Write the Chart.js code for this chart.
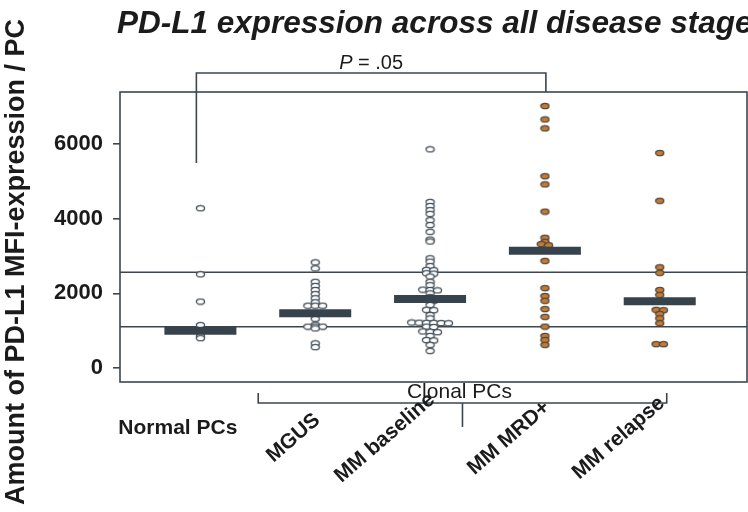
<!DOCTYPE html>
<html>
<head>
<meta charset="utf-8">
<script src="https://cdn.jsdelivr.net/npm/chart.js@4.4.1/dist/chart.umd.min.js"></script>
<style>
  html, body { margin: 0; padding: 0; background: #ffffff; }
  canvas { display: block; }
</style>
</head>
<body>
<canvas id="c" width="748" height="512"></canvas>
<script>
// ---------------- data ----------------
const categories = ['Normal PCs', 'MGUS', 'MM baseline', 'MM MRD+', 'MM relapse'];
const normalPCs  = [4280, 2510, 1780, 1150, 1000, 860, 800];
const mgus       = [2830, 2670, 2310, 2200, 2090, 1980, 1870, 1760, 1670, 1670, 1670, 1320, 1160, 1110, 1110, 1110, 1060, 660, 560];
const mmBaseline = [5860, 4450, 4340, 4230, 4130, 3960, 3830, 3650, 3440, 3390, 2940, 2850, 2730, 2630, 2620,
                    2540, 2530, 2450, 2310, 2220, 2100, 2090, 2080, 2000, 1900, 1840, 1800, 1690, 1560, 1550, 1420,
                    1330, 1220, 1215, 1210, 1210, 1205, 1200, 1110, 1100, 980, 970, 960, 860, 750, 740, 620, 460];
const mmMrdPos   = [7020, 6660, 6420, 5140, 4920, 4190, 3490, 3380, 3320, 3290, 2870, 2140, 1930, 1800, 1580, 1370, 1110, 860, 750, 620];
const mmRelapse  = [5760, 4480, 2700, 2550, 2090, 1960, 1560, 1550, 1450, 1330, 1200, 640, 640];
const medians    = [1000, 1470, 1850, 3140, 1790];
const refLines   = [2565, 1105];
const yTicks     = [0, 2000, 4000, 6000];
const titleText  = 'PD-L1 expression across all disease stages';
const yTitle     = 'Amount of PD-L1 MFI-expression / PC';
const groupTitle = 'Clonal PCs';
const pLabel     = '.05';

// ---------------- styles ----------------
const LINE = '#3b4650';
const TEXT = '#1b1b1b';
const BAR  = '#36424c';
const FONT = '"Liberation Sans", Arial, sans-serif';

function makeMarker(fill, stroke) {
  const c = document.createElement('canvas');
  c.width = 11; c.height = 8;
  const g = c.getContext('2d');
  g.beginPath();
  g.ellipse(5.5, 4, 4.1, 2.7, 0, 0, Math.PI * 2);
  g.fillStyle = fill; g.fill();
  g.lineWidth = 1.3; g.strokeStyle = stroke; g.stroke();
  return c;
}
const openMarker = makeMarker('#ffffff', '#44505a');
const orangeMarker = makeMarker('#c97a2c', '#4d4a45');

// simple beeswarm layout (positions only)
function swarm(vals, idx) {
  const s = [...vals].sort((a, b) => b - a);
  const rows = [];
  for (const v of s) {
    const last = rows[rows.length - 1];
    if (last && last[last.length - 1] - v <= 40) last.push(v); else rows.push([v]);
  }
  const step = 0.064;
  const pts = [];
  rows.forEach(r => r.forEach((v, k) => pts.push({ x: idx + (k - (r.length - 1) / 2) * step, y: v })));
  return pts;
}

const groups = [normalPCs, mgus, mmBaseline, mmMrdPos, mmRelapse];
const X_MIN = -0.7, X_MAX = 4.76;

const datasets = [];
datasets.push({
  label: 'median',
  data: medians.map((v, i) => ({ x: i, y: v })),
  pointStyle: 'line', pointRadius: 36, pointHoverRadius: 36,
  pointBorderWidth: 8, pointBorderColor: BAR, borderColor: BAR,
  showLine: false, order: 0
});
groups.forEach((g, i) => {
  datasets.push({
    label: categories[i],
    data: swarm(g, i),
    pointStyle: i >= 3 ? orangeMarker : openMarker,
    pointRadius: 4, showLine: false, order: 1
  });
});
refLines.forEach(v => {
  datasets.push({
    label: 'ref',
    type: 'line',
    data: [{ x: X_MIN, y: v }, { x: X_MAX, y: v }],
    borderColor: LINE, borderWidth: 1.6, pointRadius: 0, order: 2
  });
});

const annot = {
  id: 'annot',
  afterDraw(chart) {
    const ctx = chart.ctx;
    const a = chart.chartArea;
    const xs = chart.scales.x, ys = chart.scales.y;
    ctx.save();
    ctx.strokeStyle = LINE; ctx.lineWidth = 1.6;
    ctx.strokeRect(a.left, a.top, a.right - a.left, a.bottom - a.top);

    // title
    ctx.fillStyle = TEXT;
    ctx.font = 'italic bold 31.5px ' + FONT;
    ctx.textAlign = 'left'; ctx.textBaseline = 'alphabetic';
    ctx.fillText(titleText, 117, 33);

    // P bracket
    const x0 = xs.getPixelForValue(0) - 4, x3 = xs.getPixelForValue(3) + 1;
    const yTop = a.top - 19;
    ctx.beginPath();
    ctx.moveTo(x0, ys.getPixelForValue(5490));
    ctx.lineTo(x0, yTop);
    ctx.lineTo(x3, yTop);
    ctx.lineTo(x3, a.top);
    ctx.stroke();
    const pc = (x0 + x3) / 2;
    ctx.font = 'italic 20px ' + FONT;
    const pW = ctx.measureText('P').width;
    ctx.font = '20px ' + FONT;
    const rest = ' = ' + pLabel;
    const rW = ctx.measureText(rest).width;
    const startX = pc - (pW + rW) / 2;
    ctx.textAlign = 'left';
    ctx.font = 'italic 20px ' + FONT;
    ctx.fillText('P', startX, 69);
    ctx.font = '20px ' + FONT;
    ctx.fillText(rest, startX + pW, 69);

    // Clonal bracket
    const bl = xs.getPixelForValue(1) - 57, br = xs.getPixelForValue(4) + 7;
    const by = a.bottom + 21;
    const bm = (bl + br) / 2;
    ctx.beginPath();
    ctx.moveTo(bl, by - 10); ctx.lineTo(bl, by); ctx.lineTo(br, by); ctx.lineTo(br, by - 10);
    ctx.moveTo(bm, by); ctx.lineTo(bm, by + 24);
    ctx.stroke();
    ctx.font = '21px ' + FONT;
    ctx.textAlign = 'center'; ctx.textBaseline = 'middle';
    ctx.fillText(groupTitle, bm - 3, a.bottom + 10);

    // category labels
    ctx.font = 'bold 21px ' + FONT;
    ctx.textAlign = 'right'; ctx.textBaseline = 'middle';
    ctx.fillText(categories[0], xs.getPixelForValue(0) + 37, 428);
    const ang = 41 * Math.PI / 180;
    ctx.font = 'bold 21px ' + FONT;
    for (let i = 1; i < categories.length; i++) {
      const w = ctx.measureText(categories[i]).width;
      const cx = xs.getPixelForValue(i) + 2 - (w / 2) * Math.cos(ang);
      ctx.save();
      ctx.translate(cx, 438);
      ctx.rotate(-ang);
      ctx.textAlign = 'center';
      ctx.fillText(categories[i], 0, 0);
      ctx.restore();
    }

    // y title
    ctx.save();
    ctx.translate(17, 262);
    ctx.rotate(-Math.PI / 2);
    ctx.font = 'bold 27px ' + FONT;
    ctx.textAlign = 'center'; ctx.textBaseline = 'middle';
    ctx.fillText(yTitle, 0, 0);
    ctx.restore();

    ctx.restore();
  }
};

new Chart(document.getElementById('c'), {
  type: 'scatter',
  data: { datasets },
  options: {
    responsive: false,
    animation: false,
    devicePixelRatio: 1,
    layout: { autoPadding: false, padding: { top: 92, right: 1, bottom: 130, left: 0 } },
    plugins: { legend: { display: false }, tooltip: { enabled: false }, title: { display: false } },
    scales: {
      x: { type: 'linear', min: X_MIN, max: X_MAX, display: false },
      y: {
        type: 'linear', min: -375, max: 7394,
        afterBuildTicks: s => { s.ticks = yTicks.map(v => ({ value: v })); },
        afterFit: s => { s.width = 120; },
        grid: { drawOnChartArea: false, drawTicks: true, tickLength: 7, color: LINE, lineWidth: 1.6 },
        border: { display: false },
        ticks: {
          padding: 10, color: TEXT,
          callback: v => String(v),
          font: { family: FONT, size: 22, weight: 'bold' }
        }
      }
    }
  },
  plugins: [annot]
});
</script>
</body>
</html>
